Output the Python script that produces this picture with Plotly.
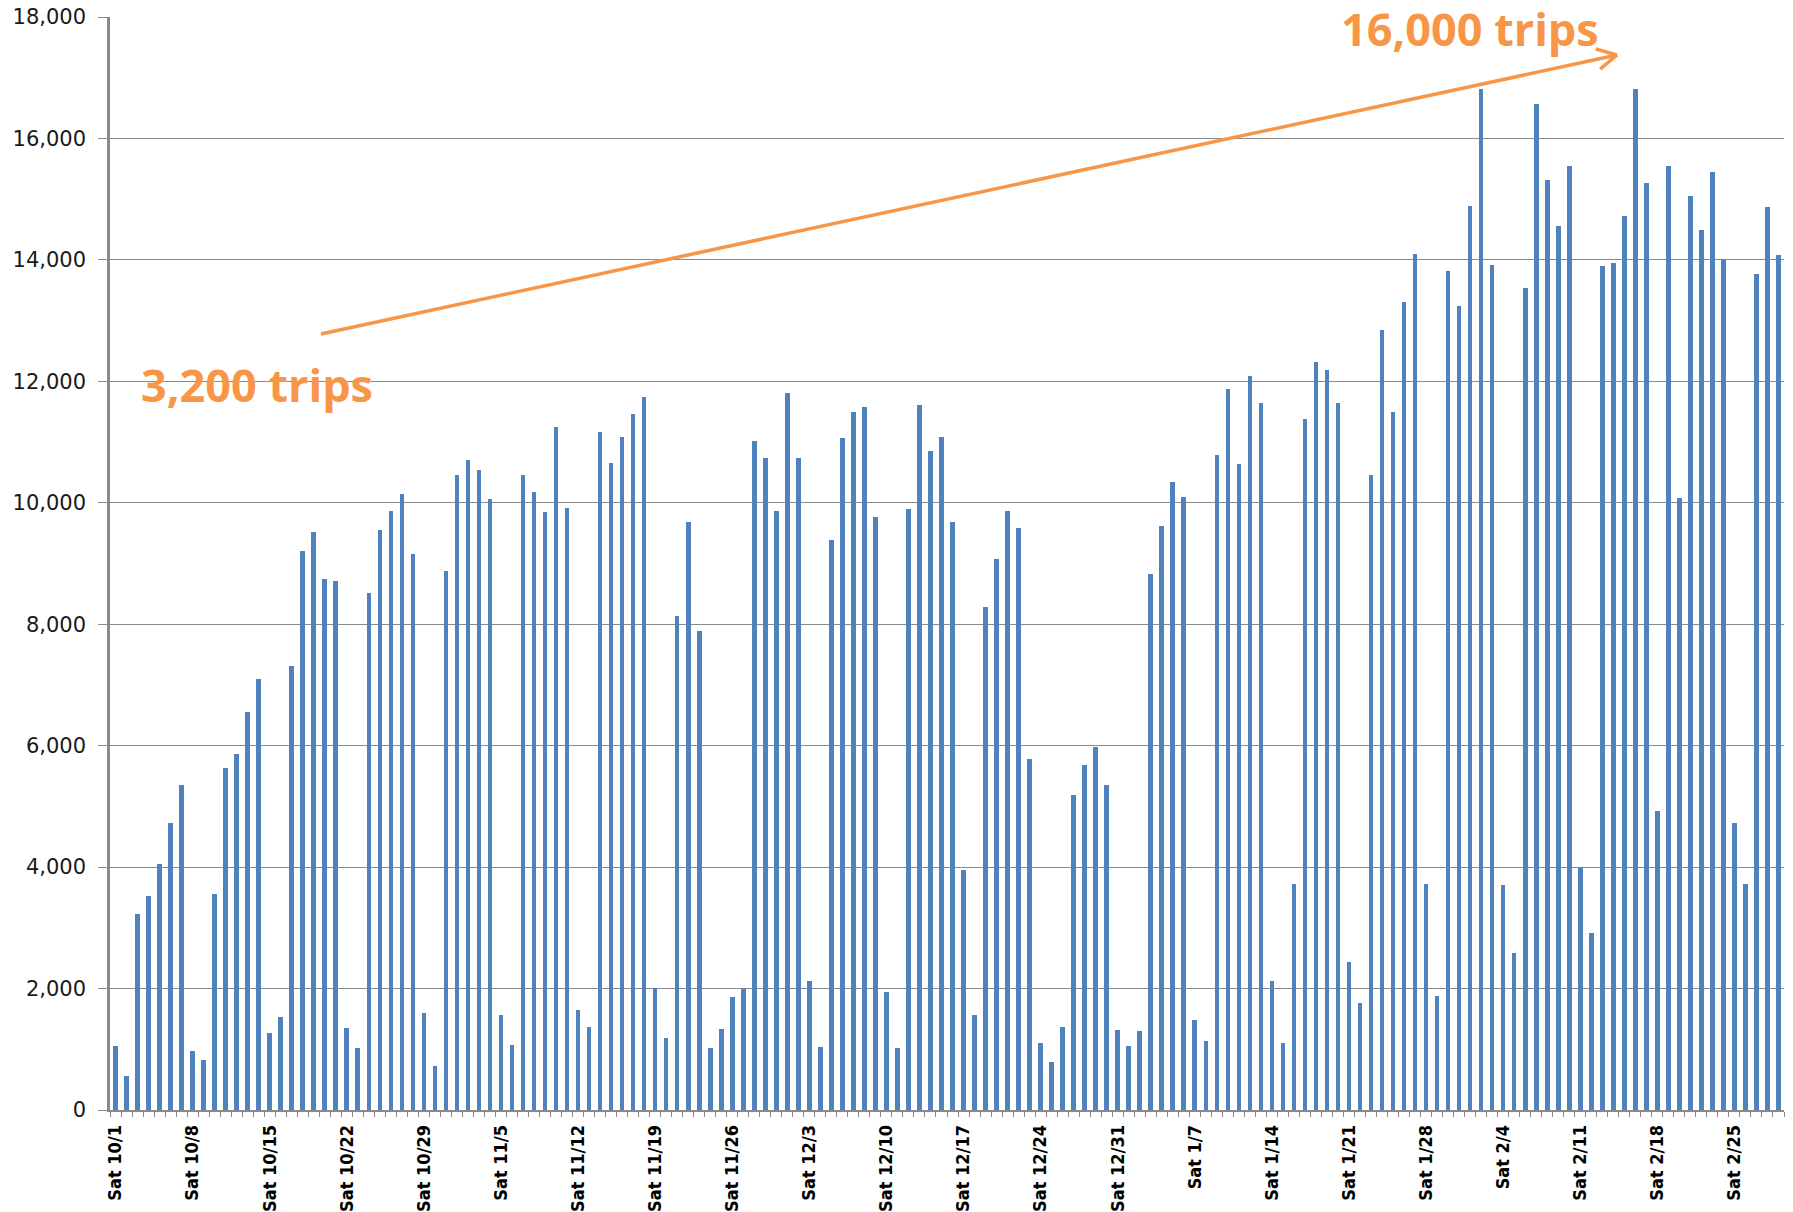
import math
import plotly.graph_objects as go

# ---------------- data ----------------
oct_trips = [1050, 560, 3220, 3530, 4050, 4730, 5360, 970, 820, 3550, 5640, 5860, 6560, 7100,
             1270, 1530, 7310, 9210, 9520, 8740, 8710, 1350, 1020, 8520, 9550, 9870, 10140, 9150,
             1590, 730, 8880]
nov_trips = [10460, 10700, 10540, 10060, 1570, 1070, 10460, 10180, 9850, 11250, 9910, 1640, 1360,
             11170, 10660, 11080, 11470, 11750, 2010, 1190, 8140, 9680, 7890, 1020, 1340, 1860,
             2000, 11010, 10730, 9870]
dec_trips = [11810, 10740, 2120, 1030, 9390, 11060, 11500, 11570, 9770, 1940, 1020, 9890, 11610,
             10850, 11080, 9680, 3950, 1570, 8280, 9080, 9870, 9590, 5780, 1100, 790, 1360, 5190,
             5680, 5980, 5350, 1310]
jan_trips = [1050, 1300, 8820, 9620, 10340, 10100, 1490, 1130, 10790, 11870, 10640, 12090, 11640,
             2120, 1100, 3720, 11380, 12320, 12190, 11640, 2430, 1760, 10460, 12850, 11490, 13310,
             14090, 3720, 1870, 13810, 13240]
feb_trips = [14880, 16820, 13910, 3710, 2590, 13530, 16560, 15320, 14550, 15540, 4000, 2920, 13900,
             13950, 14730, 16820, 15260, 4930, 15540, 10080, 15060, 14500, 15440, 14010, 4730, 3720,
             13770, 14870, 14080]

tick_labels = ["Sat 10/1", "Sat 10/8", "Sat 10/15", "Sat 10/22", "Sat 10/29", "Sat 11/5",
               "Sat 11/12", "Sat 11/19", "Sat 11/26", "Sat 12/3", "Sat 12/10", "Sat 12/17",
               "Sat 12/24", "Sat 12/31", "Sat 1/7", "Sat 1/14", "Sat 1/21", "Sat 1/28",
               "Sat 2/4", "Sat 2/11", "Sat 2/18", "Sat 2/25"]

y_ticks = [0, 2000, 4000, 6000, 8000, 10000, 12000, 14000, 16000, 18000]

start_label = "3,200 trips"
end_label = "16,000 trips"

trips = oct_trips + nov_trips + dec_trips + jan_trips + feb_trips
day_index = list(range(len(trips)))
tick_vals = list(range(0, len(trips), 7))[:len(tick_labels)]

# ---------------- layout constants ----------------
# the page body has an 8px margin, so the figure is sized/offset accordingly
OFF = 8
W, H = 1793 - OFF, 1212 - OFF
ML, MR, MT, MB = 110 - OFF, 9, 17 - OFF, 1212 - 1110
X0, X1 = -0.5, len(trips) - 0.5
Y0, Y1 = 0, 18000
PW, PH = W - ML - MR, H - MT - MB

def px2x(px):
    # px in page (reference) pixels
    return X0 + (px - OFF - ML) / PW * (X1 - X0)

def px2y(py):
    return Y0 + (H - MB - (py - OFF)) / PH * (Y1 - Y0)

ORANGE = "#F79646"
GRID = "#8a8a8a"

fig = go.Figure()
fig.add_trace(go.Bar(x=day_index, y=trips, width=0.42,
                     marker=dict(color="#4F81BD", line=dict(width=0)),
                     hoverinfo="y"))

# arrow (line + open V head), defined in page pixel space then mapped to data coords
tail = (321, 334)
tip = (1617, 55)
shapes = [dict(type="line", xref="x", yref="y",
               x0=px2x(tail[0]), y0=px2y(tail[1]), x1=px2x(tip[0]), y1=px2y(tip[1]),
               line=dict(color=ORANGE, width=3.5))]
dx, dy = tail[0] - tip[0], tail[1] - tip[1]
L = math.hypot(dx, dy)
ux, uy = dx / L, dy / L
for ang in (28, -28):
    a = math.radians(ang)
    vx = ux * math.cos(a) - uy * math.sin(a)
    vy = ux * math.sin(a) + uy * math.cos(a)
    ex, ey = tip[0] + 22 * vx, tip[1] + 22 * vy
    shapes.append(dict(type="line", xref="x", yref="y",
                       x0=px2x(tip[0]), y0=px2y(tip[1]), x1=px2x(ex), y1=px2y(ey),
                       line=dict(color=ORANGE, width=3.5)))

annotations = [
    dict(x=px2x(257), y=px2y(384), xref="x", yref="y", text=f"<b>{start_label}</b>",
         showarrow=False, xanchor="center", yanchor="middle",
         font=dict(family="Open Sans, sans-serif", size=45, color=ORANGE)),
    dict(x=px2x(1470), y=px2y(28), xref="x", yref="y", text=f"<b>{end_label}</b>",
         showarrow=False, xanchor="center", yanchor="middle",
         font=dict(family="Open Sans, sans-serif", size=45, color=ORANGE)),
]

fig.update_layout(
    width=W, height=H,
    margin=dict(l=ML, r=MR, t=MT, b=MB, autoexpand=False),
    paper_bgcolor="white", plot_bgcolor="white",
    showlegend=False,
    bargap=0,
    shapes=shapes,
    annotations=annotations,
)

fig.update_xaxes(
    range=[X0, X1], automargin=False,
    tickmode="array", tickvals=tick_vals, ticktext=tick_labels,
    tickangle=-90,
    ticks="outside", ticklen=6, tickcolor="rgba(0,0,0,0)",
    ticklabeloverflow="allow",
    tickfont=dict(family="DejaVu Sans Condensed, sans-serif",
                  size=18, color="black", weight="bold"),
    minor=dict(ticks="outside", tick0=-0.5, dtick=1, ticklen=5, tickcolor=GRID, tickwidth=1.3,
               showgrid=False),
    showgrid=False, zeroline=False,
    showline=True, linecolor=GRID, linewidth=1.5,
)

fig.update_yaxes(
    range=[Y0, Y1], automargin=False,
    tickmode="array", tickvals=y_ticks, tickformat=",",
    ticks="outside", ticklen=9, tickcolor=GRID, tickwidth=1.3,
    ticklabelstandoff=8,
    ticklabeloverflow="allow",
    tickfont=dict(family="DejaVu Sans, sans-serif", size=21, color="#1a1a1a"),
    showgrid=True, gridcolor=GRID, gridwidth=1.3,
    zeroline=False,
    showline=True, linecolor=GRID, linewidth=2.5,
)

fig.write_html("out.html")
